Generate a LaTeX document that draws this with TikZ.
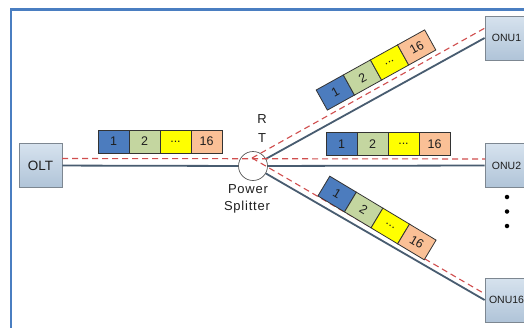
\documentclass[tikz,border=0pt]{standalone}
\usepackage{fontspec}
\setmainfont{Liberation Sans}
\definecolor{framec}{RGB}{74,126,193}
\definecolor{fiber}{RGB}{72,92,112}
\definecolor{reddash}{RGB}{208,78,78}
\definecolor{pblue}{RGB}{76,124,190}
\definecolor{pgreen}{RGB}{196,214,160}
\definecolor{pyellow}{RGB}{255,255,0}
\definecolor{porange}{RGB}{250,192,150}
\definecolor{boxtop}{RGB}{214,226,238}
\definecolor{boxbot}{RGB}{176,196,216}
\definecolor{boxedge}{RGB}{125,135,145}
\definecolor{txt}{RGB}{30,30,30}
\tikzset{
  dev/.style={draw=boxedge, line width=0.8pt, top color=boxtop, bottom color=boxbot,
    minimum width=43pt, minimum height=44pt, inner sep=0pt, text=txt},
  pkt/.style={draw=black!80, line width=0.8pt, minimum width=31pt, minimum height=23pt,
    inner sep=0pt},
  pkttext/.style={inner sep=0pt, font=\fontsize{12.5}{12.5}\selectfont, text=txt},
  fiberline/.style={fiber, line width=1.8pt},
  sig/.style={reddash, line width=1.1pt, dash pattern=on 6pt off 4pt},
  lbl/.style={inner sep=0pt, anchor=base, text=txt, font=\fontsize{13}{13}\selectfont\addfontfeature{LetterSpace=6}},
  dotn/.style={circle, fill=black, inner sep=0pt, minimum size=4.5pt},
}
\newcommand\mypacket[3]{%
  \begin{scope}[shift={(#2)}, rotate=#3, transform shape]
    \node[pkt, fill=pblue]   (#1a) at (-46.5,0) {};
    \node[pkt, fill=pgreen]  (#1b) at (-15.5,0) {};
    \node[pkt, fill=pyellow] (#1c) at (15.5,0) {};
    \node[pkt, fill=porange] (#1d) at (46.5,0) {};
    \node[pkttext] (#1ta) at (#1a) {1};
    \node[pkttext] (#1tb) at (#1b) {2};
    \node[pkttext] (#1tc) at (#1c) {...};
    \node[pkttext] (#1td) at (#1d) {16};
  \end{scope}}
\begin{document}
\begin{tikzpicture}[x=1pt,y=-1pt]
\useasboundingbox (0,0) rectangle (524,327);
\clip (0,0) rectangle (524,327);
\fill[white] (0,0) rectangle (524,327);
\draw[framec, line width=2.5pt] (11,9.5) rectangle (560,360);

% devices
\node[dev, font=\fontsize{13.5}{13.5}\selectfont] (olt) at (40.5,165.5) {OLT};
\node[dev, font=\fontsize{10.5}{10.5}\selectfont] (onu1) at (506.5,38) {ONU1};
\node[dev, font=\fontsize{10.5}{10.5}\selectfont] (onu2) at (506.5,165.5) {ONU2};
\node[dev, font=\fontsize{10.5}{10.5}\selectfont] (onu16) at (506.5,300) {ONU16};
\node[circle, draw=gray!70!black, fill=white, minimum size=29pt, inner sep=0pt, line width=0.7pt] (split) at (253,166) {};

% fibres
\draw[fiberline] (olt) -- (split);
\draw[fiberline] (split) -- (onu2.west);
\draw[fiberline] (split) -- (onu1.west);
\draw[fiberline] (split) -- (onu16.west);

% signal paths
\coordinate (dc) at (252,158);
\coordinate (d0) at (62,158.5);
\coordinate (d2) at (485,159);
\coordinate (d1) at (485,28);
\coordinate (d16) at (485,294);
\draw[sig] (d0) -- (d2);
\draw[sig] (dc) -- (d1);
\draw[sig] (dc) -- (d16);

% labels
\node[lbl] (r) at (262,123) {R};
\node[lbl] (t) at (262,142) {T};
\node[lbl] (pw) at (248,193) {Power};
\node[lbl] (sp) at (247,210) {Splitter};

% packets
\mypacket{pa}{160,141.5}{0}
\mypacket{pb}{388,144}{0}
\mypacket{pc}{376,70}{29}
\mypacket{pd}{377,218}{-31}

% dots
\node[dotn] (v1) at (507,197) {};
\node[dotn] (v2) at (507,211.5) {};
\node[dotn] (v3) at (507,226) {};
\end{tikzpicture}
\end{document}
